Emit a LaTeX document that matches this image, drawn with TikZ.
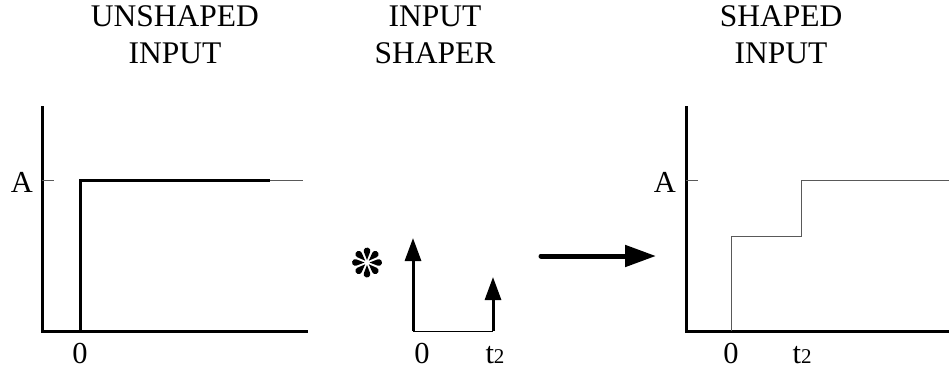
\documentclass[tikz,border=0pt]{standalone}
\usepackage{fontspec}
\setmainfont{Liberation Serif}
\usetikzlibrary{arrows.meta}
\begin{document}
\begin{tikzpicture}[x=1pt,y=-1pt,
  axis/.style={line width=3pt},
  thickline/.style={line width=3pt},
  thinline/.style={line width=1pt,black!65},
  lbl/.style={inner sep=0pt,anchor=base,font=\fontsize{30.5}{36}\selectfont},
  ttl/.style={inner sep=0pt,anchor=base,font=\fontsize{31.5}{37}\selectfont},
  petal/.style={fill=black},
  impulse/.style={line width=3pt,-{Triangle[length=23pt,width=16pt]}},
  bigarrow/.style={line width=5pt,line cap=round,-{Triangle[length=31pt,width=21pt]}}]
\useasboundingbox (0,0) rectangle (949,372);
% titles
\node[ttl] (t1a) at (175,26) {UNSHAPED};
\node[ttl] (t1b) at (175,63) {INPUT};
\node[ttl] (t2a) at (435,26) {INPUT};
\node[ttl] (t2b) at (435,63) {SHAPER};
\node[ttl] (t3a) at (781,26) {SHAPED};
\node[ttl] (t3b) at (781,63) {INPUT};
% left plot
\coordinate (L0) at (42,331);
\coordinate (Ltop) at (42,106);
\coordinate (Lend) at (308,331);
\coordinate (LA) at (54,180);
\coordinate (LAy) at (42,180);
\coordinate (Ls0) at (80,331);
\coordinate (Ls1) at (80,180);
\coordinate (Ls2) at (270,180);
\coordinate (Ls3) at (303,180);
\draw[axis] (Ltop) -- (L0) -- (Lend);
\draw[thinline] (LAy) -- (LA);
\draw[thickline] (Ls0) -- (Ls1) -- (Ls2);
\draw[thinline] (Ls2) -- (Ls3);
\node[lbl] (LAl) at (22,192) {A};
\node[lbl] (L0l) at (80,363) {0};
% middle: convolution star
\coordinate (star) at (367,262.5);
\foreach \a in {0,45,...,315}{
  \fill[petal,shift={(star)},rotate=\a] (2.5,0) -- (10.52,3.08) arc (111:-111:3.3) -- cycle;
}
\coordinate (M0) at (413,331);
\coordinate (M0t) at (413,238);
\coordinate (M1) at (493,331);
\coordinate (M1t) at (493,277);
\draw[thinline,black] (M0) -- (M1);
\draw[impulse] (M0) -- (M0t);
\draw[impulse] (M1) -- (M1t);
\node[lbl] (M0l) at (422,363) {0};
\node[lbl] (M1l) at (495,363) {t{\fontsize{21}{21}\selectfont 2}};
% big arrow
\coordinate (B0) at (541,256);
\coordinate (B1) at (656,256);
\draw[bigarrow] (B0) -- (B1);
% right plot
\coordinate (R0) at (686,331);
\coordinate (Rtop) at (686,106);
\coordinate (Rend) at (949,331);
\coordinate (RAy) at (686,180);
\coordinate (RA) at (698,180);
\coordinate (Rs0) at (731,331);
\coordinate (Rs1) at (731,236);
\coordinate (Rs2) at (801,236);
\coordinate (Rs3) at (801,180);
\coordinate (Rs4) at (949,180);
\draw[axis] (Rtop) -- (R0) -- (Rend);
\draw[thinline] (RAy) -- (RA);
\draw[thinline] (Rs0) -- (Rs1) -- (Rs2) -- (Rs3) -- (Rs4);
\node[lbl] (RAl) at (665,192) {A};
\node[lbl] (R0l) at (731,363) {0};
\node[lbl] (R1l) at (802,363) {t{\fontsize{21}{21}\selectfont 2}};
\end{tikzpicture}
\end{document}
